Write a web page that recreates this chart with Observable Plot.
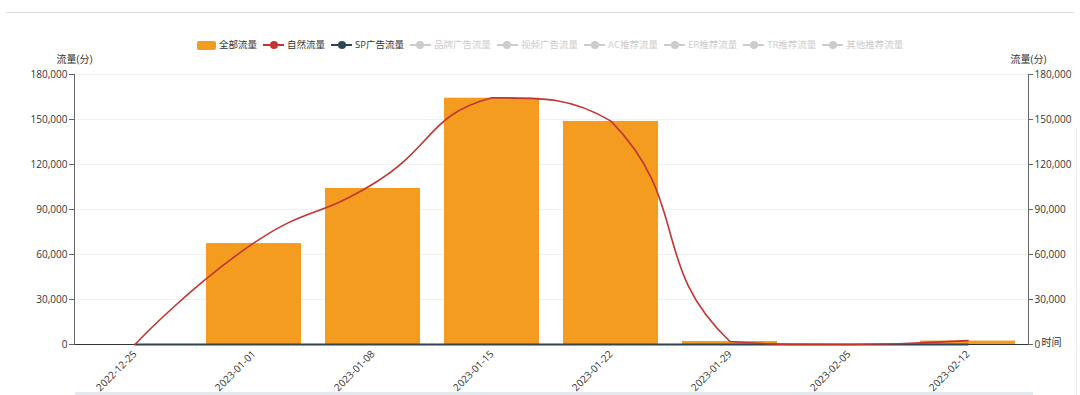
<!DOCTYPE html>
<html>
<head>
<meta charset="utf-8">
<script src="https://cdn.jsdelivr.net/npm/d3@7"></script>
<script src="https://cdn.jsdelivr.net/npm/@observablehq/plot@0.6"></script>
<style>
  html, body { margin: 0; padding: 0; background: #fff; }
  #wrap { position: relative; width: 1080px; height: 395px; overflow: hidden;
          font-family: "Open Sans", "Noto Sans CJK SC", sans-serif; color: #333; }
  #topline { position: absolute; left: 6px; top: 12px; width: 1068px; height: 0; border-top: 1px solid #dcdcdc; }
  #bottomband { position: absolute; left: 75px; top: 392px; width: 958px; height: 3px; background: #e4e9f0; }
  #rightedge { position: absolute; left: 1076px; top: 128px; width: 1px; height: 267px; background: #f0f0f0; }
  #legend { position: absolute; left: 197px; top: 38px; display: flex; align-items: center; gap: 6px;
            font-size: 9.5px; line-height: 14px; white-space: nowrap; }
  .item { display: flex; align-items: center; gap: 3px; }
  .rect { width: 19px; height: 9px; border-radius: 2px; }
  .lineicon { position: relative; width: 21px; height: 14px; }
  .lineicon .bar { position: absolute; left: 0; right: 0; top: 6px; height: 2px; }
  .lineicon .dot { position: absolute; left: 6.5px; top: 3px; width: 8px; height: 8px; border-radius: 50%; }
  #chart { position: absolute; left: 0; top: 50px; }
</style>
</head>
<body>
<div id="wrap">
  <div id="topline"></div>
  <div id="legend"></div>
  <div id="chart"></div>
  <div id="bottomband"></div>
  <div id="rightedge"></div>
</div>
<script>
// ---------- data ----------
const weeks = ["2022-12-25", "2023-01-01", "2023-01-08", "2023-01-15", "2023-01-22", "2023-01-29", "2023-02-05", "2023-02-12"];
const totalFlow   = [0, 67300, 104000, 164200, 148700, 2000, 0, 2300];   // 全部流量 (bars)
const naturalFlow = [0, 67700, 107000, 164500, 148900, 2000, 0, 2600];   // 自然流量 (line)
const spFlow      = [0, 0, 0, 0, 0, 0, 0, 0];                            // SP广告流量 (line)
const yTicks = [0, 30000, 60000, 90000, 120000, 150000, 180000];

const legendNames  = ["全部流量", "自然流量", "SP广告流量", "品牌广告流量", "视频广告流量", "AC推荐流量", "ER推荐流量", "TR推荐流量", "其他推荐流量"];
const legendColors = ["#f49c20", "#c23531", "#2f4554", "#cccccc", "#cccccc", "#cccccc", "#cccccc", "#cccccc", "#cccccc"];
const legendTypes  = ["bar", "line", "line", "line", "line", "line", "line", "line", "line"];
const legendActive = [true, true, true, false, false, false, false, false, false];

const yAxisName = "流量(分)";
const xAxisName = "时间";

// ---------- legend ----------
const legend = document.getElementById("legend");
legendNames.forEach((name, i) => {
  const item = document.createElement("div");
  item.className = "item";
  let icon;
  if (legendTypes[i] === "bar") {
    icon = document.createElement("div");
    icon.className = "rect";
    icon.style.background = legendColors[i];
  } else {
    icon = document.createElement("div");
    icon.className = "lineicon";
    const b = document.createElement("div"); b.className = "bar"; b.style.background = legendColors[i];
    const d = document.createElement("div"); d.className = "dot"; d.style.background = legendColors[i];
    icon.appendChild(b); icon.appendChild(d);
  }
  const label = document.createElement("span");
  label.textContent = name;
  label.style.color = legendActive[i] ? "#333" : "#cccccc";
  item.appendChild(icon); item.appendChild(label);
  legend.appendChild(item);
});

// ---------- ECharts-like smooth curve ----------
function echartsSmooth(context) {
  let pts = [];
  return {
    areaStart() {}, areaEnd() {},
    lineStart() { pts = []; },
    point(x, y) { pts.push([+x, +y]); },
    lineEnd() {
      const n = pts.length;
      if (!n) return;
      const smooth = 0.5;
      let minX = Infinity, minY = Infinity, maxX = -Infinity, maxY = -Infinity;
      for (const [x, y] of pts) {
        if (x < minX) minX = x; if (x > maxX) maxX = x;
        if (y < minY) minY = y; if (y > maxY) maxY = y;
      }
      const clamp = p => [Math.min(Math.max(p[0], minX), maxX), Math.min(Math.max(p[1], minY), maxY)];
      context.moveTo(pts[0][0], pts[0][1]);
      let cp0 = pts[0].slice();
      for (let i = 1; i < n; i++) {
        const p = pts[i], prev = pts[i - 1], next = pts[i + 1];
        let cp1, v = [0, 0], ratio = 0.5;
        if (!next) {
          cp1 = p.slice();
        } else {
          v = [next[0] - prev[0], next[1] - prev[1]];
          const lp = Math.hypot(p[0] - prev[0], p[1] - prev[1]);
          const ln = Math.hypot(p[0] - next[0], p[1] - next[1]);
          ratio = (lp + ln) ? ln / (lp + ln) : 0.5;
          cp1 = [p[0] - v[0] * smooth * (1 - ratio), p[1] - v[1] * smooth * (1 - ratio)];
        }
        const a = clamp(cp0), b = clamp(cp1);
        context.bezierCurveTo(a[0], a[1], b[0], b[1], p[0], p[1]);
        cp0 = [p[0] + v[0] * smooth * ratio, p[1] + v[1] * smooth * ratio];
      }
    }
  };
}

// ---------- chart ----------
const totalData   = weeks.map((w, i) => ({week: w, value: totalFlow[i]}));
const naturalData = weeks.map((w, i) => ({week: w, value: naturalFlow[i]}));
const spData      = weeks.map((w, i) => ({week: w, value: spFlow[i]}));
const fmt = d3.format(",");

const chart = Plot.plot({
  width: 1080,
  height: 345,
  marginTop: 24,
  marginBottom: 51,
  marginLeft: 74,
  marginRight: 52,
  style: {fontFamily: '"Open Sans", "Noto Sans CJK SC", sans-serif', fontSize: "10px", color: "#333", background: "transparent", overflow: "visible"},
  x: {type: "band", domain: weeks, padding: 0, label: null},
  y: {domain: [0, 180000], label: null},
  marks: [
    Plot.gridY(yTicks.slice(1), {stroke: "#f0f0f0", strokeOpacity: 1}),
    Plot.barY(totalData, {x: "week", y: "value", fill: "#f49c20", insetLeft: 12, insetRight: 12}),
    Plot.ruleY([0], {stroke: "#333", strokeWidth: 1}),
    Plot.line(spData, {x: "week", y: "value", stroke: "#2f4554", strokeWidth: 1.8}),
    Plot.line(naturalData, {x: "week", y: "value", stroke: "#c23531", strokeWidth: 1.6, curve: echartsSmooth}),
    Plot.frame({anchor: "left", stroke: "#666"}),
    Plot.frame({anchor: "right", stroke: "#666"}),
    Plot.axisY({anchor: "left", ticks: yTicks, tickFormat: fmt, tickSize: 5, tickPadding: 2, label: null, stroke: "#666"}),
    Plot.axisY({anchor: "right", ticks: yTicks, tickFormat: fmt, tickSize: 4, tickPadding: 2, label: null, stroke: "#666"}),
    Plot.axisX({tickRotate: -45, tickSize: 0, tickPadding: 8, label: null}),
    Plot.text([yAxisName], {frameAnchor: "top-left", text: d => d, dy: -19, textAnchor: "middle", fill: "#333"}),
    Plot.text([yAxisName], {frameAnchor: "top-right", text: d => d, dy: -19, textAnchor: "middle", fill: "#333"}),
    Plot.text([xAxisName], {frameAnchor: "bottom-right", text: d => d, dx: 13, dy: 1, textAnchor: "start", fill: "#333"})
  ]
});
document.getElementById("chart").appendChild(chart);
</script>
</body>
</html>
